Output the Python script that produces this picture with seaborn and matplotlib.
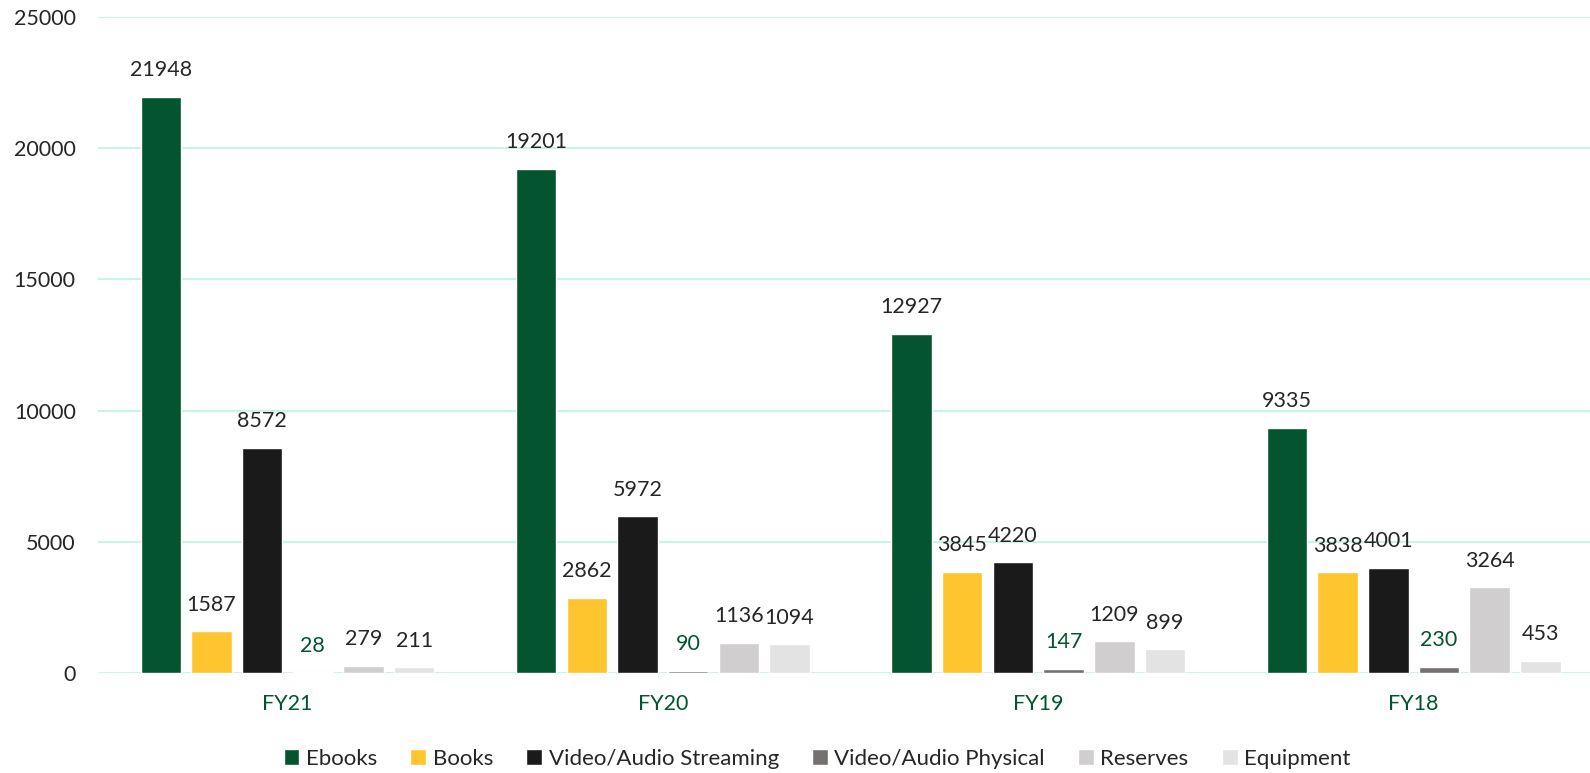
import pandas as pd
import matplotlib.pyplot as plt
import seaborn as sns

years = ["FY21", "FY20", "FY19", "FY18"]
kinds = ["Ebooks", "Books", "Video/Audio Streaming", "Video/Audio Physical", "Reserves", "Equipment"]
ebooks = [21948, 19201, 12927, 9335]
books = [1587, 2862, 3845, 3838]
streaming = [8572, 5972, 4220, 4001]
physical = [28, 90, 147, 230]
reserves = [279, 1136, 1209, 3264]
equipment = [211, 1094, 899, 453]
colors = ["#03542F", "#FFC52F", "#1A1A1A", "#767171", "#D0CECE", "#E4E3E3"]

rows = []
for k, vals in zip(kinds, [ebooks, books, streaming, physical, reserves, equipment]):
    for y, v in zip(years, vals):
        rows.append({"year": y, "kind": k, "count": v})
df = pd.DataFrame(rows)

sns.set_style("white")
plt.rcParams['font.family'] = ['Lato', 'DejaVu Sans']

fig = plt.figure(figsize=(15.9, 7.73), dpi=100)
ax = fig.add_axes([0.0616, 0.1294, 0.9384, 0.8486])
ax.yaxis.grid(True, color="#C9F5E6", linewidth=1.5)
ax.set_axisbelow(True)

sns.barplot(data=df, x="year", y="count", hue="kind", order=years, hue_order=kinds,
            palette=colors, width=0.81, gap=0.2, saturation=1, ax=ax, legend=True)

for i, cont in enumerate(ax.containers):
    lc = "#03542F" if kinds[i] == "Video/Audio Physical" else "#262626"
    ax.bar_label(cont, labels=[str(int(v)) for v in cont.datavalues], padding=12,
                 fontsize=15.5, color=lc)

ax.set_ylim(0, 25000)
ax.set_xlim(-0.505, 3.47)
ax.set_yticks(range(0, 25001, 5000))
ax.set_xlabel("")
ax.set_ylabel("")
ax.tick_params(axis="y", labelsize=15.5, labelcolor="#262626", length=0, pad=16)
ax.tick_params(axis="x", labelsize=15.5, labelcolor="#03542F", length=0, pad=15)
sns.despine(ax=ax, left=True, bottom=True)

ax.legend(loc="upper center", bbox_to_anchor=(0.482, -0.085), ncol=6, frameon=False,
          fontsize=16, handlelength=0.7, handleheight=0.7, handletextpad=0.3,
          columnspacing=1.5)

fig.savefig("out.png", dpi=100)
